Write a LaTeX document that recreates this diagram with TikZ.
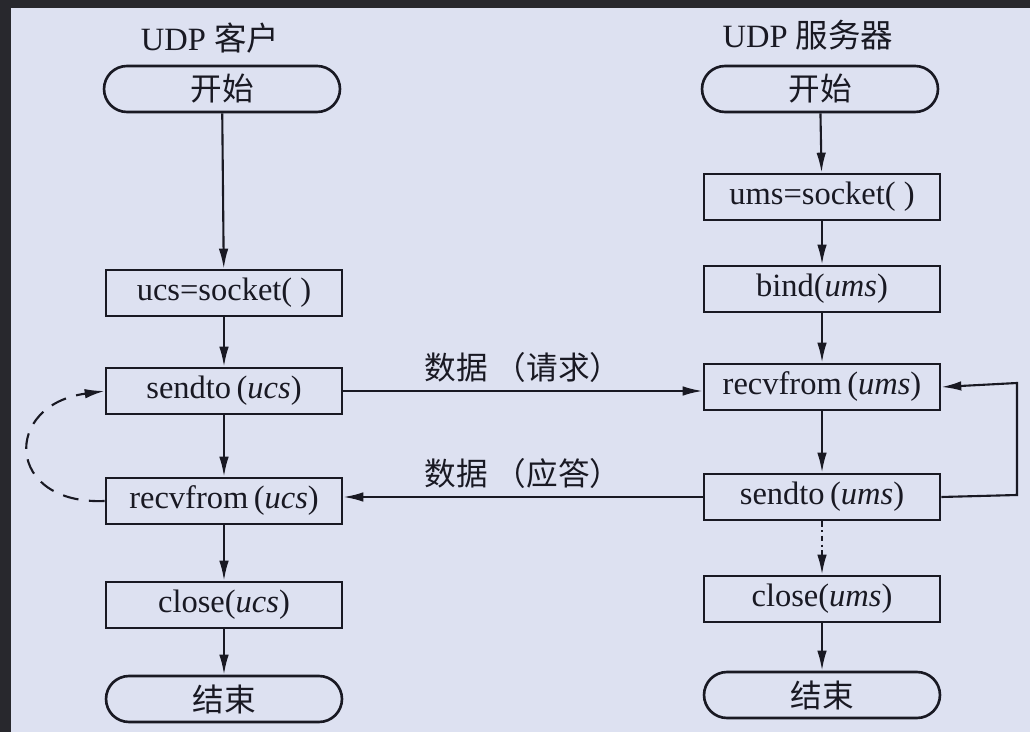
\documentclass[tikz,border=0pt]{standalone}
\usepackage{fontspec}
\setmainfont{Liberation Serif}
\newfontfamily\cjk{Noto Sans CJK SC}
\usetikzlibrary{arrows.meta}
\definecolor{paper}{RGB}{221,225,241}
\definecolor{ink}{RGB}{25,25,35}
\definecolor{frame}{RGB}{40,40,45}

\begin{document}
\begin{tikzpicture}[x=0.02cm, y=-0.02cm, font=\fontsize{18.5}{22}\selectfont, ink,
		box/.style={draw=ink, line width=1.5pt, minimum width=4.72cm, minimum height=0.92cm, inner sep=0pt},
		pill/.style={box, rounded corners=0.46cm, font=\fontsize{18}{22}\selectfont\cjk},
		flow/.style={draw=ink, line width=1.2pt, -{Latex[length=0.4cm, width=0.19cm]}}]
		\useasboundingbox (0, 0) rectangle (1030, 732);
		% paper and the dark edge of the photo
		\fill[paper] (0, 0) rectangle (1030, 732);
		\fill[frame] (0, 0) rectangle (1030, 8);
		\fill[frame] (0, 0) rectangle (11, 732);
		% column titles
		\node (ctitle) at (210, 38) {UDP {\cjk 客户}};
		\node (stitle) at (808, 35) {UDP {\cjk 服务器}};
		% client steps
		\node[pill] (cstart) at (222, 89) {开始};
		\node[box] (csock) at (224, 293) {ucs=socket( )};
		\node[box] (csend) at (224, 391) {sendto\,(\textit{ucs})};
		\node[box] (crecv) at (224, 501) {recvfrom\,(\textit{ucs})};
		\node[box] (cclose) at (224, 605) {close(\textit{ucs})};
		\node[pill] (cend) at (224, 699) {结束};
		% server steps
		\node[pill] (sstart) at (820, 89) {开始};
		\node[box] (ssock) at (822, 197) {ums=socket( )};
		\node[box] (sbind) at (822, 289) {bind(\textit{ums})};
		\node[box] (srecv) at (822, 387) {recvfrom\,(\textit{ums})};
		\node[box] (ssend) at (822, 497) {sendto\,(\textit{ums})};
		\node[box] (sclose) at (822, 599) {close(\textit{ums})};
		\node[pill] (send) at (822, 695) {结束};
		% arrows down each column
		\draw[flow] (cstart) -- (csock);
		\draw[flow] (csock) -- (csend);
		\draw[flow] (csend) -- (crecv);
		\draw[flow] (crecv) -- (cclose);
		\draw[flow] (cclose) -- (cend);
		\draw[flow] (sstart) -- (ssock);
		\draw[flow] (ssock) -- (sbind);
		\draw[flow] (sbind) -- (srecv);
		\draw[flow] (srecv) -- (ssend);
		\draw[flow, dash dot] (ssend) -- (sclose);
		\draw[flow] (sclose) -- (send);
		% data between client and server
		\draw[flow] (csend.east) -- (srecv.west |- csend.east) node[midway, above=1pt, font=\fontsize{18}{22}\selectfont\cjk] {数据 （请求）};
		\draw[flow] (ssend.west) -- (crecv.east |- ssend.west) node[midway, above=1pt, font=\fontsize{18}{22}\selectfont\cjk] {数据 （应答）};
		% loops
		\draw[flow, dash pattern=on 9pt off 6pt] (crecv.west) .. controls (5, 505) and (2, 405) .. (csend.west);
		\draw[flow] (ssend.east) -- (1017, 495) -- (1017, 383) -- (srecv.east);
	\end{tikzpicture}
\end{document}
